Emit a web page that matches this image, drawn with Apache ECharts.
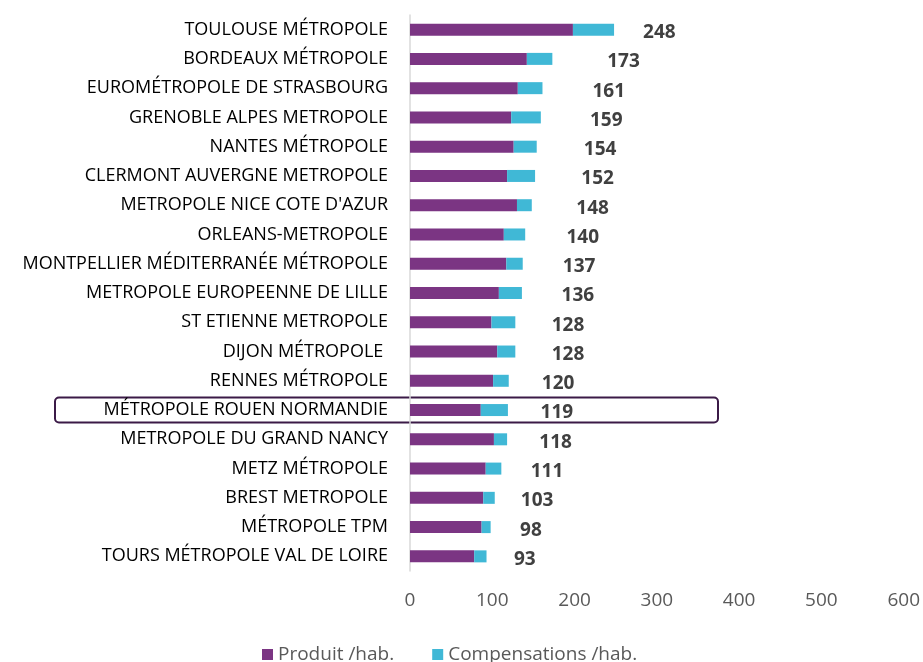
<!DOCTYPE html>
<html>
<head>
<meta charset="utf-8">
<script src="https://cdn.jsdelivr.net/npm/echarts@6/dist/echarts.min.js"></script>
<style>
  html, body { margin: 0; padding: 0; background: #fff; }
  #chart { width: 923px; height: 662px; }
</style>
</head>
<body>
<div id="chart"></div>
<script>
// métropoles, du haut vers le bas
const categories = [
  'TOULOUSE MÉTROPOLE', 'BORDEAUX MÉTROPOLE', 'EUROMÉTROPOLE DE STRASBOURG',
  'GRENOBLE ALPES METROPOLE', 'NANTES MÉTROPOLE', 'CLERMONT AUVERGNE METROPOLE',
  "METROPOLE NICE COTE D'AZUR", 'ORLEANS-METROPOLE', 'MONTPELLIER MÉDITERRANÉE MÉTROPOLE',
  'METROPOLE EUROPEENNE DE LILLE', 'ST ETIENNE METROPOLE', 'DIJON MÉTROPOLE ',
  'RENNES MÉTROPOLE', 'MÉTROPOLE ROUEN NORMANDIE', 'METROPOLE DU GRAND NANCY',
  'METZ MÉTROPOLE', 'BREST METROPOLE', 'MÉTROPOLE TPM', 'TOURS MÉTROPOLE VAL DE LOIRE'
]
const produit = [198, 142, 131, 123, 126, 118, 130, 114, 117, 108, 99, 106, 101, 86, 102, 92, 89, 87, 78]
const compensations = [50, 31, 30, 36, 28, 34, 18, 26, 20, 28, 29, 22, 19, 33, 16, 19, 14, 11, 15]
const totals = [248, 173, 161, 159, 154, 152, 148, 140, 137, 136, 128, 128, 120, 119, 118, 111, 103, 98, 93]
const xTicks = [0, 100, 200, 300, 400, 500, 600]
const highlight = 'MÉTROPOLE ROUEN NORMANDIE'

const font = 'Open Sans'
let myChart = echarts.init(document.getElementById('chart'))

// le total est posé sur une barre invisible (comme dans Excel)
let totalData = totals.map(function (v, i) {
  if (i === 0) {
    return { value: v, label: { position: 'insideLeft', distance: 29 } }
  }
  return v
})

myChart.setOption({
  animation: false,
  textStyle: { fontFamily: font },
  grid: { left: 410, right: 19, top: 15, bottom: 91, containLabel: false },
  legend: {
    bottom: -7,
    left: 257,
    itemWidth: 11,
    itemHeight: 11,
    itemGap: 38,
    icon: 'rect',
    textStyle: { fontSize: 19, color: '#595959', fontFamily: font },
    data: ['Produit /hab.', 'Compensations /hab.']
  },
  xAxis: {
    type: 'value',
    min: xTicks[0],
    max: xTicks[xTicks.length - 1],
    interval: 100,
    axisLine: { show: false },
    axisTick: { show: false },
    splitLine: { show: false },
    axisLabel: { fontSize: 19, color: '#595959', margin: 20 }
  },
  yAxis: {
    type: 'category',
    inverse: true,
    data: categories,
    axisLine: { show: true, lineStyle: { color: '#d9d9d9', width: 1.5 } },
    axisTick: { show: false },
    axisLabel: { fontSize: 18, color: '#000', margin: 22 }
  },
  series: [
    {
      name: 'Produit /hab.',
      type: 'bar',
      stack: 'tot',
      barWidth: 12,
      itemStyle: { color: '#7b3583' },
      data: produit
    },
    {
      name: 'Compensations /hab.',
      type: 'bar',
      stack: 'tot',
      barWidth: 12,
      itemStyle: { color: '#40b8d6' },
      data: compensations
    },
    {
      name: 'total',
      type: 'bar',
      stack: 'tot',
      barWidth: 12,
      itemStyle: { color: 'rgba(0,0,0,0)' },
      label: {
        show: true,
        position: 'inside',
        fontSize: 19,
        fontWeight: 'bold',
        color: '#404040',
        fontFamily: font,
        offset: [0, 3]
      },
      emphasis: { disabled: true },
      data: totalData
    }
  ]
})

// cadre autour de Rouen
let ry = myChart.convertToPixel({ yAxisIndex: 0 }, highlight)
myChart.setOption({
  graphic: [{
    type: 'rect',
    shape: { x: 55, y: ry - 12.5, width: 663, height: 25, r: 4 },
    style: { fill: 'none', stroke: '#3b1a47', lineWidth: 2 }
  }]
})
</script>
</body>
</html>
